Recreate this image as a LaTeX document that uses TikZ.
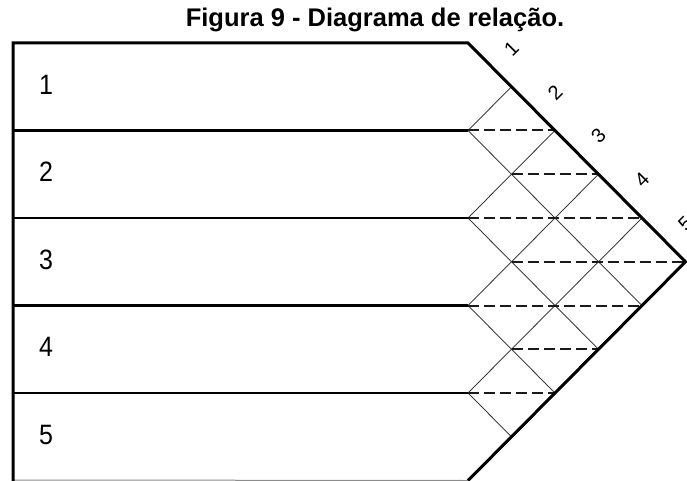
\documentclass[tikz,border=0pt]{standalone}
\usepackage{fontspec}
\setmainfont{Liberation Sans}
\usepackage{tikz}
\usetikzlibrary{calc}
\definecolor{cInk} {HTML}{000000}
\definecolor{cGrid}{HTML}{404040}
\definecolor{cRel} {HTML}{1A1A1A}
\definecolor{cEdge}{HTML}{8C8C8C}
\tikzset{
  outl/.style  ={draw=cInk,line width=3pt,line join=miter},
  rowl/.style  ={draw=cInk,line width=2.1pt},
  botl/.style  ={draw=cEdge,line width=1pt},
  latt/.style  ={draw=cGrid,line width=0.9pt},
  rel/.style   ={draw=cRel,line width=2pt,dash pattern=on 11pt off 5pt},
  rowno/.style ={font=\fontsize{25}{25}\selectfont,yscale=1.12,inner sep=0pt,anchor=base},
  colno/.style ={font=\fontsize{20}{20}\selectfont,rotate=45,inner sep=0pt},
  ttl/.style   ={font=\bfseries\fontsize{25.5}{25.5}\selectfont,inner sep=0pt,anchor=base},
}

\begin{document}
\begin{tikzpicture}[x=1pt,y=-1pt]
\useasboundingbox (0,0) rectangle (687,481);

\node[ttl] (title) at (375,27) {Figura 9 - Diagrama de relação.};

% frame corners
\coordinate (tl) at (13,43);
\coordinate (bl) at (13,481);
\coordinate (bb) at (13,480);
\coordinate (o)  at (468,43);

% row separators and row numbers
\foreach \k in {1,...,4}
  \draw[rowl] (13,{43+87.5*\k}) -- (468,{43+87.5*\k});
\foreach \k in {1,...,5}
  \node[rowno] (row\k) at (46,{43+87.5*\k-43.75+7.5}) {\k};

% relation lattice, one unit per half row
\begin{scope}[shift={(o)},x=43.5pt,y=-43.75pt]
\coordinate (tip)  at (5,5);
\coordinate (foot) at (0,10);
\foreach \k in {1,...,4}{
  \draw[latt] (0,2*\k) -- (\k,\k);
  \draw[latt] (0,2*\k) -- ({5-\k},{5+\k});
}
\foreach \j/\a/\b in {2/0/2,3/1/3,4/0/4,5/1/5,6/0/4,7/1/3,8/0/2}
  \draw[rel] (\a,\j) -- (\b,\j);
\foreach \k in {1,...,5}
  \node[colno] (col\k) at (\k,\k-0.87) {\k};
\end{scope}

\draw[botl] (bb) -- (foot);
\draw[outl] (bl) -- (tl) -- (o) -- (tip) -- (foot);
\end{tikzpicture}
\end{document}
